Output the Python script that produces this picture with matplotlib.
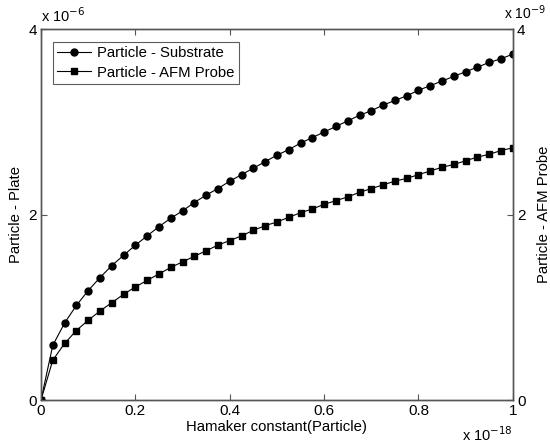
import matplotlib
matplotlib.use("Agg")
import matplotlib.pyplot as plt

plt.rcParams['font.family'] = ['Liberation Sans', 'DejaVu Sans']

# Hamaker constant (x 1e-18)
hamaker = [i * 0.025 for i in range(41)]
# Particle - Plate (x 1e-6)
substrate = [0.0, 0.59, 0.83, 1.02, 1.18, 1.32, 1.45, 1.56, 1.67, 1.77, 1.87,
             1.96, 2.04, 2.13, 2.21, 2.28, 2.36, 2.43, 2.50, 2.57, 2.64,
             2.70, 2.77, 2.83, 2.89, 2.95, 3.01, 3.07, 3.12, 3.18, 3.23,
             3.28, 3.34, 3.39, 3.44, 3.49, 3.54, 3.59, 3.64, 3.68, 3.73]
# Particle - AFM Probe (x 1e-9)
afm = [0.0, 0.43, 0.61, 0.75, 0.86, 0.96, 1.05, 1.14, 1.22, 1.29, 1.36,
       1.43, 1.49, 1.55, 1.61, 1.67, 1.72, 1.77, 1.83, 1.88, 1.92,
       1.97, 2.02, 2.06, 2.11, 2.15, 2.19, 2.24, 2.28, 2.32, 2.36,
       2.39, 2.43, 2.47, 2.51, 2.54, 2.58, 2.62, 2.65, 2.69, 2.72]

axis_col = "#555555"
fig = plt.figure(figsize=(5.5, 4.47), dpi=100)
ax = fig.add_axes([0.0745, 0.105, 0.858, 0.83])
ax2 = ax.twinx()

l1, = ax.plot(hamaker, substrate, "-o", color="black", lw=0.8, ms=5, label="Particle - Substrate")
l2, = ax2.plot(hamaker, afm, "-s", color="black", lw=0.8, ms=4, label="Particle - AFM Probe")

ax.set_xlim(0, 1)
ax.set_ylim(0, 4)
ax2.set_ylim(0, 4)
ax.set_xticks([0, 0.2, 0.4, 0.6, 0.8, 1])
ax.set_xticklabels(["0", "0.2", "0.4", "0.6", "0.8", "1"])
ax.set_yticks([0, 2, 4])
ax.set_yticklabels(["0", "2", "4"])
ax2.set_yticks([0, 2, 4])
ax2.set_yticklabels(["0", "2", "4"])

for a in (ax, ax2):
    for s in a.spines.values():
        s.set_color(axis_col)
        s.set_linewidth(1.0)
ax.tick_params(direction="in", top=True, length=4, labelsize=11, colors=axis_col, labelcolor="black", pad=3)
ax2.tick_params(direction="in", length=4, labelsize=11, colors=axis_col, labelcolor="black", pad=3)

ax.set_xlabel("Hamaker constant(Particle)", fontsize=10.7, labelpad=1)
ax.set_ylabel("Particle - Plate", fontsize=10.7, labelpad=4)
ax2.set_ylabel("Particle - AFM Probe", fontsize=10.7, labelpad=8)

ax.text(0.0, 1.012, "x 10$^{-6}$", transform=ax.transAxes, fontsize=10.5, ha="left", va="bottom")
fig.text(0.993, 1 - 19 / 447, "x 10$^{-9}$", fontsize=10, ha="right", va="baseline")
ax.text(1.0, -0.094, "x 10$^{-18}$", transform=ax.transAxes, fontsize=10.5, ha="right", va="center")

leg = ax.legend(handles=[l1, l2], loc="upper left", bbox_to_anchor=(0.025, 0.965),
                fontsize=10.7, frameon=True, fancybox=False, borderpad=0.3,
                handlelength=2.3, handletextpad=0.4, labelspacing=0.35, borderaxespad=0)
leg.get_frame().set_edgecolor("#333333")
leg.get_frame().set_linewidth(0.8)

fig.savefig("out.png", dpi=100)
